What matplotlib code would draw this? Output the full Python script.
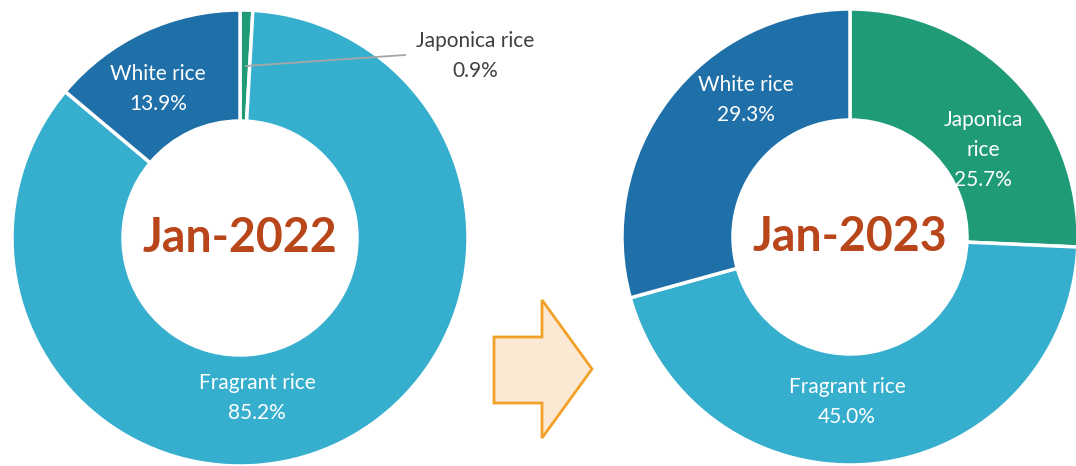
"""
rice export structure, Jan-2022 vs Jan-2023 (two donuts)
"""
import matplotlib
matplotlib.use("Agg")
import matplotlib.pyplot as plt
from matplotlib.patches import Polygon

categories = ["Japonica rice", "Fragrant rice", "White rice"]
share_2022 = [0.9, 85.2, 13.9]
share_2023 = [25.7, 45.0, 29.3]
titles = ["Jan-2022", "Jan-2023"]
colors = ["#1F9B78", "#36AECE", "#1F6FA8"]

plt.rcParams["font.family"] = ["Lato", "DejaVu Sans"]

fig = plt.figure(figsize=(10.76, 4.66), dpi=100)
ax = fig.add_axes([0, 0, 1, 1])

R = 228
W = 111

def donut(cx, cy, values, title):
    wedges, _ = ax.pie(values, colors=colors, startangle=90, counterclock=False,
                       center=(cx, cy), radius=R, frame=True,
                       wedgeprops=dict(width=W, edgecolor="white", linewidth=2.5))
    ax.text(cx, cy, title, ha="center", va="center", fontsize=33.5,
            fontweight="bold", color="#B8461A")
    return wedges

donut(240, 228, share_2022, titles[0])
donut(850, 229, share_2023, titles[1])

ls = 1.62
lab = dict(ha="center", va="center", fontsize=15, color="white", linespacing=ls)
# left donut labels
ax.text(158, 466 - 89, f"White rice\n{share_2022[2]:.1f}%", **lab)
ax.text(257, 466 - 398, f"Fragrant rice\n{share_2022[1]:.1f}%", **lab)
ax.text(475, 466 - 56, f"Japonica rice\n{share_2022[0]:.1f}%", linespacing=ls,
        ha="center", va="center", fontsize=15, color="#404040")
ax.plot([246, 405], [466 - 66, 466 - 55], color="#A6A6A6", lw=1.3)

# right donut labels
ax.text(746, 466 - 100, f"White rice\n{share_2023[2]:.1f}%", **lab)
ax.text(983, 466 - 150, f"Japonica\nrice\n{share_2023[0]:.1f}%", **lab)
ax.text(847, 466 - 402, f"Fragrant rice\n{share_2023[1]:.1f}%", **lab)

# arrow between the two years
arrow = [(494, 466 - 337), (542, 466 - 337), (542, 466 - 300), (592, 466 - 369),
         (542, 466 - 438), (542, 466 - 403), (494, 466 - 403)]
ax.add_patch(Polygon(arrow, closed=True, facecolor="#FCE9D4",
                     edgecolor="#F2A128", lw=2))

ax.set_xlim(0, 1076)
ax.set_ylim(0, 466)
ax.set_aspect("equal")
ax.axis("off")

fig.savefig("out.png", dpi=100)
